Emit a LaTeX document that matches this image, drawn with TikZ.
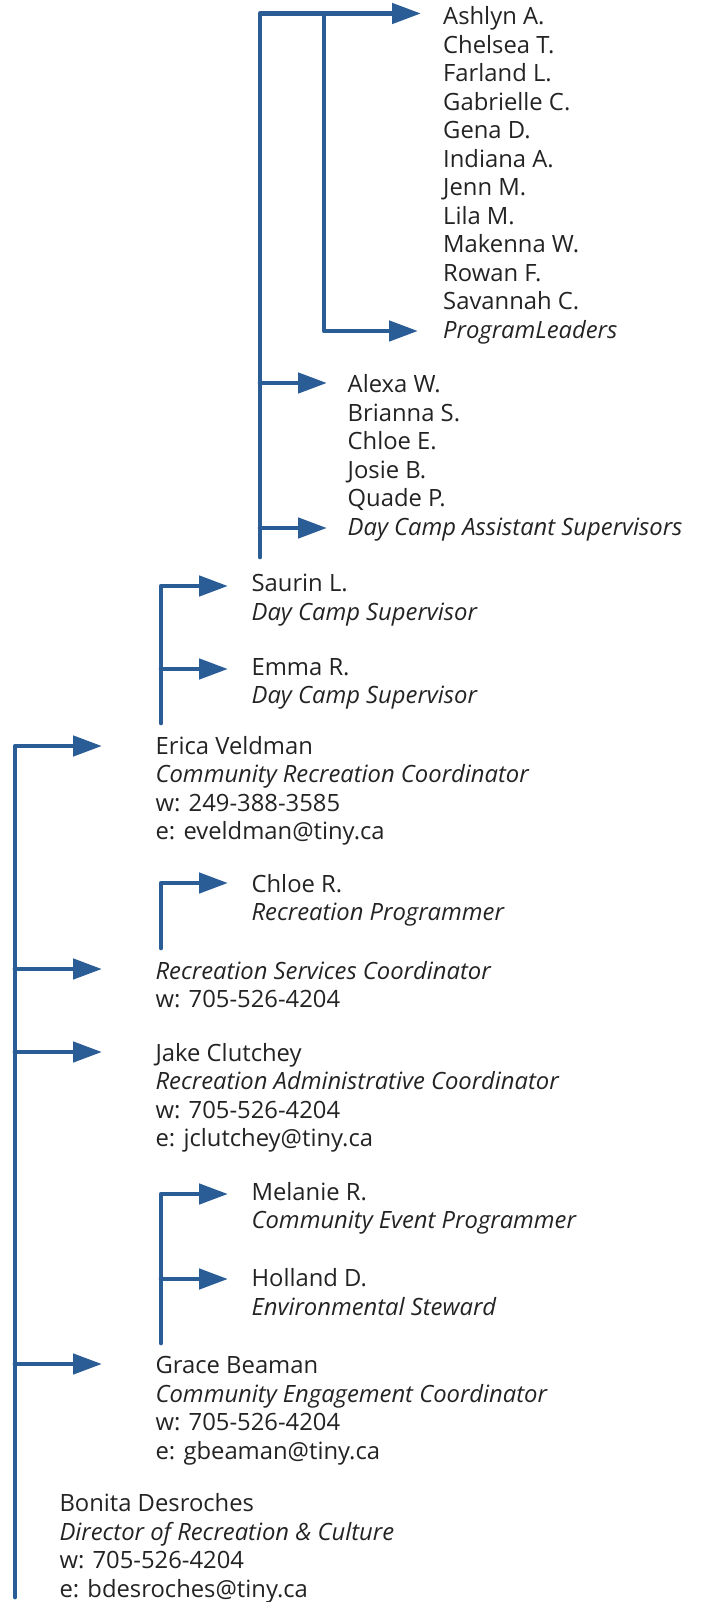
\documentclass[tikz,border=0pt]{standalone}
\usepackage{fontspec}
\setmainfont{Open Sans}
\usetikzlibrary{arrows.meta}
\definecolor{linec}{RGB}{42,92,150}
\definecolor{textc}{RGB}{35,35,35}
\newcommand\topstrut{\rule{0pt}{24pt}}
\begin{document}
\begin{tikzpicture}[x=1pt,y=-1pt,
  conn/.style={draw=linec, line width=4.7pt, line join=round, line cap=round},
  arr/.style={conn, -{Triangle[length=29pt,width=20pt]}},
  txt/.style={anchor=north west, inner sep=0pt, align=left, text=textc,
    font=\fontsize{23.8}{28.5}\selectfont}]
\useasboundingbox (0,0) rectangle (701,1602);

% text blocks (node top = first baseline - 24)
\node[txt] (pl) at (443,0.5) {\topstrut Ashlyn A.\\Chelsea T.\\Farland L.\\Gabrielle C.\\Gena D.\\Indiana A.\\Jenn M.\\Lila M.\\Makenna W.\\Rowan F.\\Savannah C.\\\textit{ProgramLeaders}};
\node[txt] (dcas) at (347.5,368.7) {\topstrut Alexa W.\\Brianna S.\\Chloe E.\\Josie B.\\Quade P.\\\textit{Day Camp Assistant Supervisors}};
\node[txt] (saurin) at (251.4,567.7) {\topstrut Saurin L.\\\textit{Day Camp Supervisor}};
\node[txt] (emma) at (251.4,651) {\topstrut Emma R.\\\textit{Day Camp Supervisor}};
\node[txt] (erica) at (155.4,730) {\topstrut Erica Veldman\\\textit{Community Recreation Coordinator}\\w: 249-388-3585\\e: eveldman@tiny.ca};
\node[txt] (chloe) at (251.4,868) {\topstrut Chloe R.\\\textit{Recreation Programmer}};
\node[txt] (rsc) at (155.4,955) {\topstrut\textit{Recreation Services Coordinator}\\w: 705-526-4204};
\node[txt] (jake) at (155.4,1037) {\topstrut Jake Clutchey\\\textit{Recreation Administrative Coordinator}\\w: 705-526-4204\\e: jclutchey@tiny.ca};
\node[txt] (melanie) at (251.4,1176) {\topstrut Melanie R.\\\textit{Community Event Programmer}};
\node[txt] (holland) at (251.4,1262.6) {\topstrut Holland D.\\\textit{Environmental Steward}};
\node[txt] (grace) at (155.4,1349.3) {\topstrut Grace Beaman\\\textit{Community Engagement Coordinator}\\w: 705-526-4204\\e: gbeaman@tiny.ca};
\node[txt] (bonita) at (59.3,1487.7) {\topstrut Bonita Desroches\\\textit{Director of Recreation \& Culture}\\w: 705-526-4204\\e: bdesroches@tiny.ca};

% connector coordinates
\coordinate (aBot) at (260,557);
\coordinate (aTop) at (260,13.5);
\coordinate (aTip) at (421,13.5);
\coordinate (aJ) at (324,13.5);
\coordinate (aJb) at (324,331);
\coordinate (plTip) at (418,331);
\coordinate (a1) at (260,383);
\coordinate (a1Tip) at (327,383);
\coordinate (a2) at (260,528);
\coordinate (a2Tip) at (327,528);

\coordinate (bBot) at (161,723);
\coordinate (bTop) at (161,586);
\coordinate (bTip) at (228,586);
\coordinate (b1) at (161,669);
\coordinate (b1Tip) at (228,669);

\coordinate (cBot) at (161,948);
\coordinate (cTop) at (161,883);
\coordinate (cTip) at (228,883);

\coordinate (dBot) at (161,1343);
\coordinate (dTop) at (161,1194);
\coordinate (dTip) at (228,1194);
\coordinate (d1) at (161,1279);
\coordinate (d1Tip) at (228,1279);

\coordinate (mBot) at (15,1597);
\coordinate (mTop) at (15,746);
\coordinate (mTip) at (102,746);
\coordinate (m1) at (15,969);
\coordinate (m1Tip) at (102,969);
\coordinate (m2) at (15,1052);
\coordinate (m2Tip) at (102,1052);
\coordinate (m3) at (15,1364);
\coordinate (m3Tip) at (102,1364);

% connectors
\draw[arr] (aBot) -- (aTop) -- (aTip);
\draw[arr] (aJ) -- (aJb) -- (plTip);
\draw[arr] (a1) -- (a1Tip);
\draw[arr] (a2) -- (a2Tip);

\draw[arr] (bBot) -- (bTop) -- (bTip);
\draw[arr] (b1) -- (b1Tip);

\draw[arr] (cBot) -- (cTop) -- (cTip);

\draw[arr] (dBot) -- (dTop) -- (dTip);
\draw[arr] (d1) -- (d1Tip);

\draw[arr] (mBot) -- (mTop) -- (mTip);
\draw[arr] (m1) -- (m1Tip);
\draw[arr] (m2) -- (m2Tip);
\draw[arr] (m3) -- (m3Tip);
\end{tikzpicture}
\end{document}
